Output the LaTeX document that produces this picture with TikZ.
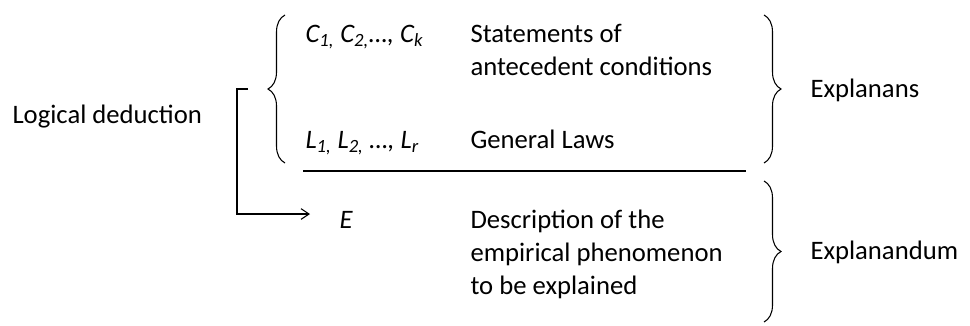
\documentclass[tikz,border=0pt]{standalone}
\usepackage{fontspec}
\setmainfont{Carlito}
\usetikzlibrary{arrows.meta, positioning, decorations.pathreplacing}
\newcommand{\isub}[1]{\textsubscript{\itshape #1}}

\tikzset{
  txt/.style={anchor=base west, inner sep=0pt, align=left,
    font=\fontsize{20}{24.75}\selectfont},
  brc/.style={decorate, decoration={brace, amplitude=12.75pt}},
}

\begin{document}
\begin{tikzpicture}[x=0.75pt, y=-0.75pt, line width=0.8pt]
  \useasboundingbox (0,0) rectangle (970,325);

  % Left label
  \node[txt] (logded) at (12,123) {Logical deduction};

  % Explanans rows (multi-line nodes sit on their last baseline)
  \node[txt] (cond) at (305,42) {\itshape C\isub{1,} C\isub{2,}…, C\isub{k}};
  \node[txt] (stmt) at (470,75) {Statements of\\antecedent conditions};
  \node[txt] (laws) at (305,148) {\itshape L\isub{1,} L\isub{2,} …, L\isub{r}};
  \node[txt] (gen) at (470,148) {General Laws};

  % Explanandum row
  \node[txt] (ev) at (339,228) {\itshape E};
  \node[txt] (desc) at (470,294) {Description of the\\empirical phenomenon\\to be explained};

  % Right labels
  \node[txt] (expl) at (810,97) {Explanans};
  \node[txt] (explnd) at (810,259) {Explanandum};

  % Braces
  \coordinate (lbtop) at (285,15);
  \coordinate (lbbot) at (285,163);
  \coordinate (rbtop) at (764,15);
  \coordinate (rbbot) at (764,163);
  \coordinate (rdtop) at (764,181);
  \coordinate (rdbot) at (764,322);
  \draw[brc] (lbbot) -- (lbtop);
  \draw[brc] (rbtop) -- (rbbot);
  \draw[brc] (rdtop) -- (rdbot);

  % Separating rule
  \coordinate (rulel) at (303,171);
  \coordinate (ruler) at (746,171);
  \draw (rulel) -- (ruler);

  % Deduction arrow
  \coordinate (dedstart) at (248,89);
  \coordinate (dedend) at (310,214);
  \draw[-{Straight Barb[length=6pt, width=8pt]}] (dedstart) -- ++(-11,0) |- (dedend);
\end{tikzpicture}
\end{document}
